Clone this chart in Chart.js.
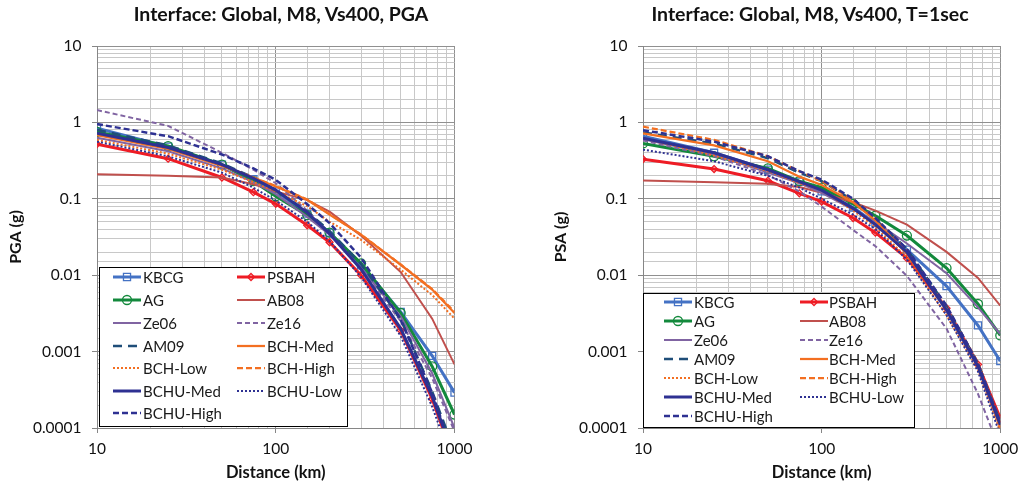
<!DOCTYPE html>
<html>
<head>
<meta charset="utf-8">
<script src="https://cdn.jsdelivr.net/npm/chart.js@4.4.0/dist/chart.umd.min.js"></script>
<style>
  html, body { margin: 0; padding: 0; background: #fff; }
  #wrap { position: relative; width: 1026px; height: 485px; overflow: hidden; }
  canvas { position: absolute; top: 0; }
  .head { position: absolute; top: 3px; transform: translateX(-50%); white-space: nowrap;
          font: bold 19.5px Lato, "Open Sans", sans-serif; line-height: 22px; color: #111; }
</style>
</head>
<body>
<div id="wrap">
  <canvas id="pga" width="513" height="485" style="left:0"></canvas>
  <canvas id="psa" width="513" height="485" style="left:513px"></canvas>
  <div class="head" style="left:281px">Interface: Global, M8, Vs400, PGA</div>
  <div class="head" style="left:810px">Interface: Global, M8, Vs400, T=1sec</div>
</div>
<script>
// distances (km) used by every curve
const distances = [10, 25, 50, 75, 100, 150, 200, 300, 500, 750, 1000];
const xTickLabels = ['10', '100', '1000'];
const yTickLabels = ['0.0001', '0.001', '0.01', '0.1', '1', '10'];
const modelNames = ['KBCG', 'PSBAH', 'AG', 'AB08', 'Ze06', 'Ze16', 'AM09',
  'BCH-Med', 'BCH-Low', 'BCH-High', 'BCHU-Med', 'BCHU-Low', 'BCHU-High'];

// PGA (g)
const pgaKBCG     = [0.84, 0.48, 0.28, 0.18, 0.125, 0.064, 0.036, 0.0135, 0.0033, 0.00088, 0.00029];
const pgaPSBAH    = [0.52, 0.335, 0.19, 0.122, 0.086, 0.045, 0.027, 0.0100, 0.0019, 0.00024, 0.000037];
const pgaAG       = [0.75, 0.49, 0.28, 0.17, 0.108, 0.061, 0.036, 0.0143, 0.0032, 0.00064, 0.00015];
const pgaAB08     = [0.21, 0.20, 0.19, 0.155, 0.125, 0.096, 0.068, 0.033, 0.011, 0.0027, 0.00068];
const pgaZe06     = [0.63, 0.42, 0.25, 0.165, 0.115, 0.058, 0.034, 0.0125, 0.0029, 0.00052, 0.0001];
const pgaZe16     = [1.45, 0.90, 0.40, 0.24, 0.16, 0.07, 0.036, 0.012, 0.0025, 0.00045, 0.00009];
const pgaAM09     = [0.80, 0.50, 0.29, 0.19, 0.13, 0.068, 0.038, 0.014, 0.0027, 0.0003, 0.00005];
const pgaBCHMed   = [0.68, 0.45, 0.27, 0.19, 0.145, 0.097, 0.062, 0.034, 0.0137, 0.0065, 0.0032];
const pgaBCHLow   = [0.59, 0.39, 0.24, 0.165, 0.125, 0.08, 0.05, 0.029, 0.0118, 0.0055, 0.0027];
const pgaBCHHigh  = [0.70, 0.46, 0.275, 0.19, 0.147, 0.098, 0.063, 0.034, 0.0138, 0.0066, 0.0033];
const pgaBCHUMed  = [0.72, 0.47, 0.28, 0.185, 0.13, 0.066, 0.035, 0.012, 0.0020, 0.00026, 0.00004];
const pgaBCHULow  = [0.56, 0.36, 0.22, 0.14, 0.095, 0.05, 0.028, 0.0095, 0.0016, 0.00019, 0.00003];
const pgaBCHUHigh = [0.95, 0.66, 0.38, 0.25, 0.177, 0.085, 0.048, 0.017, 0.0026, 0.00029, 0.00004];

// PSA T=1s (g)
const psaKBCG     = [0.66, 0.40, 0.24, 0.168, 0.125, 0.077, 0.048, 0.0216, 0.0072, 0.0022, 0.00075];
const psaPSBAH    = [0.33, 0.245, 0.172, 0.118, 0.092, 0.056, 0.036, 0.0167, 0.0037, 0.00068, 0.000134];
const psaAG       = [0.53, 0.36, 0.25, 0.17, 0.14, 0.086, 0.060, 0.033, 0.0124, 0.0042, 0.00163];
const psaAB08     = [0.173, 0.165, 0.157, 0.143, 0.12, 0.09, 0.07, 0.046, 0.0202, 0.0092, 0.0040];
const psaZe06     = [0.60, 0.38, 0.22, 0.16, 0.12, 0.072, 0.050, 0.026, 0.0106, 0.0038, 0.0017];
const psaZe16     = [0.58, 0.36, 0.205, 0.125, 0.079, 0.039, 0.024, 0.0098, 0.0020, 0.00028, 0.00005];
const psaAM09     = [0.74, 0.53, 0.34, 0.22, 0.17, 0.095, 0.054, 0.022, 0.0039, 0.0007, 0.00012];
const psaBCHMed   = [0.72, 0.50, 0.31, 0.195, 0.152, 0.09, 0.052, 0.019, 0.0036, 0.00066, 0.0001];
const psaBCHLow   = [0.62, 0.37, 0.23, 0.16, 0.13, 0.07, 0.043, 0.017, 0.0030, 0.00058, 0.00009];
const psaBCHHigh  = [0.88, 0.59, 0.36, 0.23, 0.17, 0.097, 0.056, 0.021, 0.0038, 0.00072, 0.00012];
const psaBCHUMed  = [0.62, 0.40, 0.24, 0.168, 0.13, 0.075, 0.046, 0.020, 0.0035, 0.00064, 0.00011];
const psaBCHULow  = [0.44, 0.31, 0.20, 0.14, 0.10, 0.062, 0.04, 0.016, 0.0030, 0.00055, 0.00008];
const psaBCHUHigh = [0.79, 0.56, 0.36, 0.23, 0.178, 0.10, 0.056, 0.022, 0.0040, 0.0007, 0.00012];

const pgaSeries = [pgaKBCG, pgaPSBAH, pgaAG, pgaAB08, pgaZe06, pgaZe16, pgaAM09,
  pgaBCHMed, pgaBCHLow, pgaBCHHigh, pgaBCHUMed, pgaBCHULow, pgaBCHUHigh];
const psaSeries = [psaKBCG, psaPSBAH, psaAG, psaAB08, psaZe06, psaZe16, psaAM09,
  psaBCHMed, psaBCHLow, psaBCHHigh, psaBCHUMed, psaBCHULow, psaBCHUHigh];

const FONT = 'Lato, "Open Sans", sans-serif';
const ORANGE = '#F36F21', NAVY = '#2E3192', PURPLE = '#8064A2';
const styles = [
  { color: '#4472C4', width: 3, dash: [], marker: 'rect', r: 5 },
  { color: '#EE1C25', width: 3, dash: [], marker: 'rectRot', r: 3.5 },
  { color: '#13893C', width: 3, dash: [], marker: 'circle', r: 4.5 },
  { color: '#C0504D', width: 2, dash: [] },
  { color: PURPLE, width: 2, dash: [] },
  { color: PURPLE, width: 2, dash: [5, 3] },
  { color: '#1F4E79', width: 2.5, dash: [9, 6] },
  { color: ORANGE, width: 2.25, dash: [] },
  { color: ORANGE, width: 2, dash: [2, 2] },
  { color: ORANGE, width: 2.25, dash: [6, 3] },
  { color: NAVY, width: 3, dash: [] },
  { color: NAVY, width: 2, dash: [2, 2] },
  { color: NAVY, width: 2.5, dash: [6, 3] }
];

function buildDatasets(series) {
  return series.map((vals, i) => {
    const s = styles[i];
    return {
      label: modelNames[i],
      data: distances.map((d, j) => ({ x: d, y: vals[j] })),
      borderColor: s.color,
      borderWidth: s.width,
      borderDash: s.dash,
      pointStyle: s.marker || 'circle',
      pointRadius: s.marker ? s.r : 0,
      pointBorderColor: s.color,
      pointBackgroundColor: 'rgba(0,0,0,0)',
      pointBorderWidth: 1.3,
      tension: 0,
      fill: false,
      order: -i // later series on top, like the original
    };
  });
}

function isDecade(v) {
  const e = Math.log10(v);
  return Math.abs(e - Math.round(e)) < 1e-6;
}
function labelAt(v, labels, firstExp) {
  return isDecade(v) ? labels[Math.round(Math.log10(v)) - firstExp] : '';
}
const gridColor = ctx => (ctx.tick && isDecade(ctx.tick.value)) ? '#909090' : '#C8C8C8';
const tickColor = ctx => (ctx.tick && isDecade(ctx.tick.value)) ? '#868686' : 'rgba(0,0,0,0)';

function drawMarker(ctx, type, x, y, r) {
  ctx.beginPath();
  if (type === 'circle') ctx.arc(x, y, r, 0, Math.PI * 2);
  else if (type === 'rect') { const h = r * Math.SQRT1_2; ctx.rect(x - h, y - h, 2 * h, 2 * h); }
  else { ctx.moveTo(x, y - r); ctx.lineTo(x + r, y); ctx.lineTo(x, y + r); ctx.lineTo(x - r, y); ctx.closePath(); }
  ctx.stroke();
}

// boxed two-column legend inside the plot, drawn over the curves
const boxLegend = {
  id: 'boxLegend',
  afterDatasetsDraw(chart, args, o) {
    const ctx = chart.ctx;
    ctx.save();
    ctx.fillStyle = '#fff';
    ctx.fillRect(o.box[0], o.box[1], o.box[2] - o.box[0], o.box[3] - o.box[1]);
    ctx.strokeStyle = '#000';
    ctx.lineWidth = 1;
    ctx.strokeRect(o.box[0] + 0.5, o.box[1] + 0.5, o.box[2] - o.box[0], o.box[3] - o.box[1]);
    ctx.font = o.fontSize + 'px ' + FONT;
    ctx.textBaseline = 'middle';
    modelNames.forEach((name, i) => {
      const s = styles[i];
      const col = i % 2, row = Math.floor(i / 2);
      const x0 = o.lineX[col], x1 = x0 + o.lineLen, y = o.rowY[row];
      ctx.beginPath();
      ctx.setLineDash(s.dash);
      ctx.strokeStyle = s.color;
      ctx.lineWidth = s.width;
      ctx.moveTo(x0, y);
      ctx.lineTo(x1, y);
      ctx.stroke();
      ctx.setLineDash([]);
      if (s.marker) {
        ctx.lineWidth = 1.3;
        drawMarker(ctx, s.marker, (x0 + x1) / 2, y, s.r);
      }
      ctx.fillStyle = '#1a1a1a';
      ctx.fillText(name, o.textX[col], y + 1);
    });
    ctx.restore();
  }
};

function makeChart(id, series, cfg) {
  return new Chart(document.getElementById(id), {
    type: 'line',
    data: { datasets: buildDatasets(series) },
    options: {
      responsive: false,
      animation: false,
      layout: { padding: { left: 0, right: cfg.padRight, top: 46, bottom: 0 } },
      plugins: {
        legend: { display: false },
        tooltip: { enabled: false },
        boxLegend: cfg.legend
      },
      scales: {
        x: {
          type: 'logarithmic', min: 10, max: 1000,
          afterFit: s => { s.height = 57; },
          grid: { color: gridColor, tickColor: tickColor, tickLength: 5, lineWidth: 1 },
          border: { color: '#868686' },
          ticks: { autoSkip: false, maxRotation: 0, padding: 7, color: '#111',
                   font: { family: FONT, size: 15.5 }, callback: v => labelAt(v, xTickLabels, 1) },
          title: { display: true, text: 'Distance (km)', color: '#111',
                   font: { family: FONT, size: 16.5, weight: 'bold' }, padding: { top: 0, bottom: 2 } }
        },
        y: {
          type: 'logarithmic', min: 0.0001, max: 10,
          afterFit: s => { s.width = cfg.yWidth; },
          grid: { color: gridColor, tickColor: tickColor, tickLength: 5, lineWidth: 1 },
          border: { color: '#868686' },
          ticks: { autoSkip: false, padding: 10.5, color: '#111',
                   font: { family: FONT, size: 15.5 }, callback: v => labelAt(v, yTickLabels, -4) },
          title: { display: true, text: cfg.yTitle, color: '#111',
                   font: { family: FONT, size: 16, weight: 'bold' }, padding: { top: cfg.yTitlePad, bottom: 0 } }
        }
      }
    },
    plugins: [boxLegend]
  });
}

makeChart('pga', pgaSeries, {
  yTitle: 'PGA (g)', yWidth: 97, yTitlePad: 6, padRight: 58.5,
  legend: { box: [99, 267, 347, 426], lineX: [113, 237], lineLen: 28, textX: [143, 267],
            rowY: [277, 300, 323, 346, 368, 391, 413], fontSize: 15 }
});
makeChart('psa', psaSeries, {
  yTitle: 'PSA (g)', yWidth: 130, yTitlePad: 38.5, padRight: 25.7,
  legend: { box: [130, 293, 401, 427], lineX: [151, 287], lineLen: 28, textX: [181, 316],
            rowY: [302, 321, 340, 359, 378, 397, 416], fontSize: 15 }
});
</script>
</body>
</html>
